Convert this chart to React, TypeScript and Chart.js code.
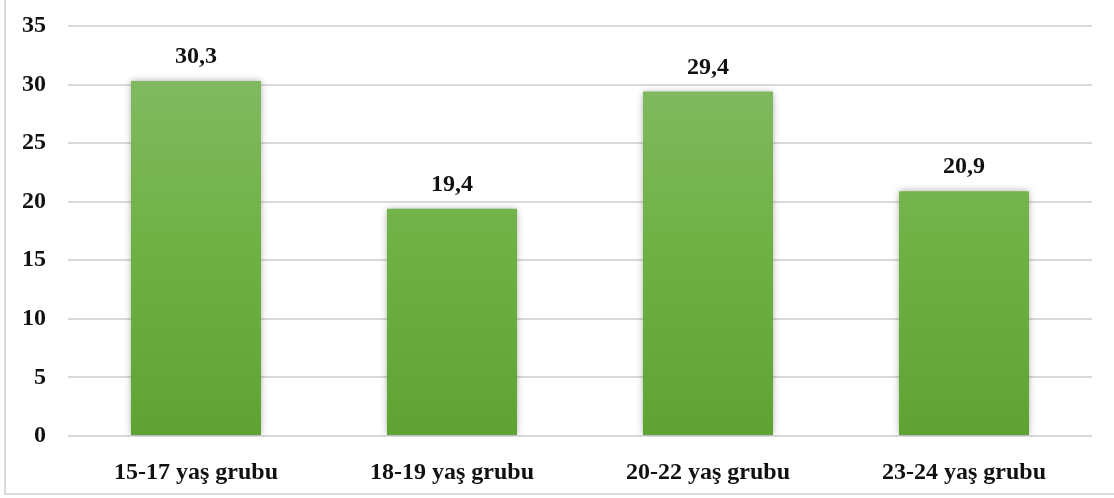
import React, { useEffect, useRef } from "react";
import { Chart, registerables } from "chart.js";

Chart.register(...registerables);

const categories = ["15-17 yaş grubu", "18-19 yaş grubu", "20-22 yaş grubu", "23-24 yaş grubu"];
const values = [30.3, 19.4, 29.4, 20.9];
const yTicks = [0, 5, 10, 15, 20, 25, 30, 35];

const FONT = '"Liberation Serif", "Times New Roman", serif';

const shadowPlugin = {
  id: "barShadow",
  beforeDatasetsDraw(chart: any) {
    const ctx = chart.ctx;
    ctx.save();
    ctx.shadowColor = "rgba(0,0,0,0.35)";
    ctx.shadowBlur = 7;
    ctx.shadowOffsetX = 0;
    ctx.shadowOffsetY = 0;
  },
  afterDatasetsDraw(chart: any) {
    chart.ctx.restore();
  },
};

const labelPlugin = {
  id: "valueLabels",
  afterDatasetsDraw(chart: any) {
    const ctx = chart.ctx;
    const meta = chart.getDatasetMeta(0);
    ctx.save();
    ctx.font = `bold 24px ${FONT}`;
    ctx.fillStyle = "#111";
    ctx.textAlign = "center";
    ctx.textBaseline = "middle";
    meta.data.forEach((bar: any, i: number) => {
      ctx.fillText(values[i].toFixed(1).replace(".", ","), bar.x, bar.y - 24);
    });
    ctx.restore();
  },
};

export default function App() {
  const ref = useRef<HTMLCanvasElement | null>(null);

  useEffect(() => {
    if (!ref.current) return;
    const chart = new Chart(ref.current, {
      type: "bar",
      data: {
        labels: categories,
        datasets: [
          {
            data: values,
            backgroundColor: (c: any) => {
              const { chart } = c;
              const area = chart.chartArea;
              if (!area) return "#70B046";
              const g = chart.ctx.createLinearGradient(0, area.top, 0, area.bottom);
              g.addColorStop(0, "#86BC69");
              g.addColorStop(0.5, "#71B247");
              g.addColorStop(1, "#5FA234");
              return g;
            },
            borderWidth: 0,
            categoryPercentage: 1,
            barPercentage: 0.508,
          },
        ],
      },
      options: {
        responsive: false,
        animation: false,
        maintainAspectRatio: false,
        layout: { padding: { left: 0, right: 22, top: 26, bottom: 0 } },
        plugins: {
          legend: { display: false },
          tooltip: { enabled: false },
        },
        scales: {
          x: {
            grid: { display: false },
            border: { display: false },
            ticks: {
              color: "#111",
              font: { family: FONT, size: 24, weight: "bold" },
              padding: 14,
              maxRotation: 0,
            },
            afterFit: (s: any) => {
              s.height = 62;
              s.paddingLeft = 0;
              s.paddingRight = 0;
            },
          },
          y: {
            min: 0,
            max: 35,
            afterBuildTicks: (s: any) => {
              s.ticks = yTicks.map((v) => ({ value: v }));
            },
            grid: { color: "#d9d9d9", lineWidth: 2, drawTicks: false },
            border: { display: false },
            ticks: {
              color: "#111",
              font: { family: FONT, size: 24, weight: "bold" },
              padding: 22,
            },
            afterFit: (s: any) => {
              s.width = 68;
              s.paddingTop = 0;
              s.paddingBottom = 0;
            },
          },
        },
      },
      plugins: [shadowPlugin, labelPlugin],
    });
    return () => chart.destroy();
  }, []);

  return (
    <div
      style={{
        position: "absolute",
        left: 0,
        top: 0,
        width: 1114,
        height: 498,
        overflow: "hidden",
        background: "#fff",
      }}
    >
      <div
        style={{
          position: "absolute",
          left: 4,
          top: -10,
          right: -10,
          bottom: 3,
          borderLeft: "2px solid #d9d9d9",
          borderBottom: "2px solid #d9d9d9",
        }}
      />
      <canvas
        ref={ref}
        width={1114}
        height={498}
        style={{ position: "absolute", left: 0, top: 0, width: 1114, height: 498 }}
      />
    </div>
  );
}
